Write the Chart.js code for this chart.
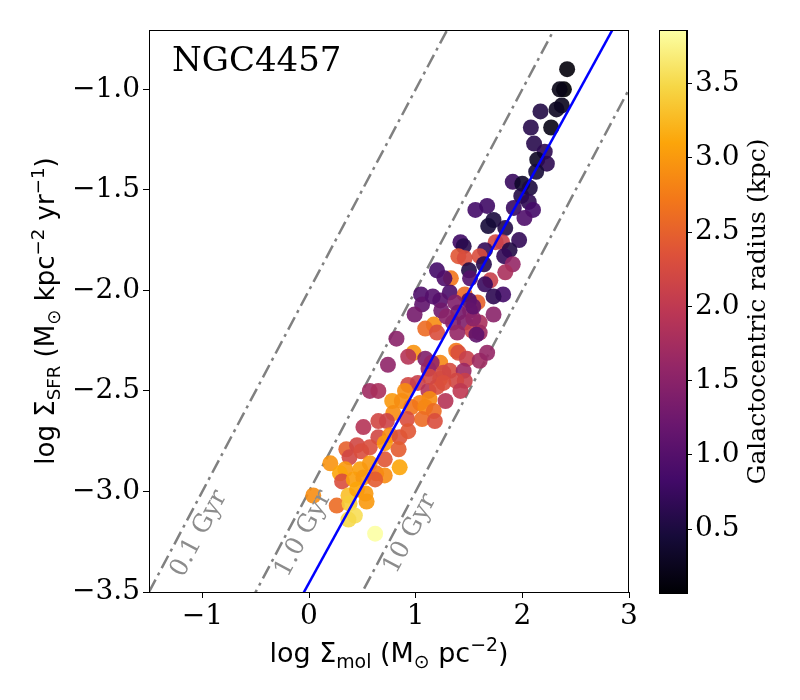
<!DOCTYPE html>
<html>
<head>
<meta charset="utf-8">
<script src="https://cdn.jsdelivr.net/npm/chart.js@4/dist/chart.umd.min.js"></script>
<style>
  html, body { margin: 0; padding: 0; background: #fff; }
  #wrap { position: relative; width: 800px; height: 700px; }
  #main { position: absolute; left: 0; top: 0; }
  #cbar { position: absolute; left: 640px; top: 0; }
</style>
</head>
<body>
<div id="wrap">
  <canvas id="main" width="800" height="700"></canvas>
  <canvas id="cbar" width="160" height="700"></canvas>
</div>
<script>
// log Sigma_mol (Msun pc^-2)
const logMol = [
  2.42, 2.39, 2.35, 2.37, 2.32, 2.17, 2.27, 2.08, 2.11, 2.21, 2.14, 2.23, 2.13, 1.91, 2.00, 2.07, 1.99, 2.06, 2.10, 1.92, 2.02, 1.56, 1.67, 1.73, 1.68, 1.84,
  1.97, 1.75, 1.81, 1.42, 1.45, 1.88, 1.65, 1.40, 1.46, 1.60, 1.83, 1.91, 1.20, 1.50, 1.64, 1.84, 1.33, 1.27, 1.70, 1.65, 1.51, 1.82, 1.73, 1.32, 1.46, 1.58,
  1.50, 1.05, 1.23, 1.37, 1.06, 0.99, 1.24, 1.40, 1.51, 1.73, 1.60, 1.17, 1.09, 1.35, 1.46, 1.53, 1.60, 1.20, 1.39, 0.82,
  1.54, 1.57, 0.98, 0.93, 1.09, 1.23, 1.38, 1.40, 1.48, 1.60, 1.67, 0.74, 1.12, 1.23, 1.32, 1.45, 1.46, 1.38, 0.93, 1.02, 0.57, 0.65, 1.12, 1.20, 1.42,
  0.90, 0.78, 0.87, 1.04, 1.13, 1.28, 0.96, 1.09, 1.17, 0.79, 0.65, 0.73, 0.92, 1.06, 1.18, 0.51,
  0.65, 0.76, 0.85, 0.93, 0.35, 0.45, 0.57, 0.71, 0.84, 0.38, 0.49, 0.20, 0.34, 0.48, 0.57, 0.71, 0.63, 0.71, 0.85, 0.29, 0.31, 0.42, 0.51, 0.62,
  0.04, 0.37, 0.45, 0.53, 0.54, 0.26, 0.38, 0.43, 0.37, 0.62,
  1.54, 1.29, 1.15, 1.13, 1.26, 1.26, 1.16
];
// log Sigma_SFR (Msun kpc^-2 yr^-1)
const logSFR = [
  -0.90, -1.00, -1.00, -1.08, -1.10, -1.11, -1.19, -1.19, -1.27, -1.31, -1.35, -1.37, -1.41, -1.46, -1.47, -1.49, -1.53, -1.56, -1.60, -1.59, -1.64, -1.60, -1.58, -1.65, -1.68, -1.69,
  -1.75, -1.76, -1.76, -1.76, -1.78, -1.80, -1.80, -1.83, -1.84, -1.83, -1.83, -1.87, -1.90, -1.90, -1.87, -1.91, -1.94, -1.94, -1.95, -1.97, -1.94, -2.02, -2.03, -2.01, -2.02, -2.06,
  -2.05, -2.02, -2.05, -2.06, -2.07, -2.12, -2.10, -2.11, -2.10, -2.12, -2.16, -2.17, -2.19, -2.16, -2.16, -2.20, -2.21, -2.21, -2.21, -2.24,
  -2.14, -2.22, -2.31, -2.33, -2.34, -2.36, -2.30, -2.31, -2.34, -2.35, -2.31, -2.37, -2.39, -2.44, -2.40, -2.40, -2.45, -2.45, -2.47, -2.46, -2.50, -2.50, -2.50, -2.48, -2.50,
  -2.50, -2.55, -2.55, -2.56, -2.54, -2.55, -2.58, -2.58, -2.60, -2.61, -2.65, -2.65, -2.64, -2.64, -2.65, -2.68,
  -2.73, -2.72, -2.73, -2.70, -2.79, -2.77, -2.78, -2.76, -2.79, -2.83, -2.80, -2.86, -2.89, -2.89, -2.86, -2.84, -2.91, -2.92, -2.88, -2.91, -2.95, -2.94, -2.93, -2.94,
  -3.02, -3.02, -2.99, -3.01, -3.05, -3.07, -3.06, -3.12, -3.14, -3.21,
  -2.08, -2.13, -2.36, -2.43, -2.41, -2.46, -2.03
];
// galactocentric radius (kpc), used for the colour
const radius = [
  0.12, 0.07, 0.20, 0.25, 0.30, 0.55, 0.20, 0.60, 0.60, 0.65, 0.30, 0.65, 0.45, 0.75, 0.35, 0.50, 0.55, 0.65, 0.85, 0.75, 0.95, 0.85, 0.80, 0.50, 0.45, 0.55,
  0.70, 2.20, 2.10, 0.80, 0.60, 0.55, 0.70, 2.40, 2.30, 2.30, 0.70, 1.60, 0.85, 0.55, 0.60, 1.80, 2.70, 0.95, 2.10, 0.75, 1.00, 0.85, 0.65, 0.90, 2.60, 2.50,
  0.90, 0.95, 1.05, 1.40, 1.10, 1.30, 1.25, 1.30, 1.40, 1.50, 1.80, 2.90, 2.60, 1.45, 1.40, 2.10, 1.70, 2.30, 1.60, 1.50,
  1.50, 1.10, 2.95, 1.90, 1.40, 2.85, 2.70, 2.30, 2.10, 1.70, 1.60, 1.55, 1.60, 2.70, 2.25, 1.65, 2.10, 2.20, 2.20, 2.10, 1.70, 1.80, 1.90, 2.30, 2.00,
  2.90, 3.00, 2.90, 2.80, 2.90, 1.90, 2.70, 2.85, 2.60, 2.90, 2.20, 2.15, 2.30, 2.60, 2.30, 1.90,
  2.20, 2.90, 2.35, 2.40, 2.50, 2.20, 2.30, 3.00, 2.45, 2.20, 2.30, 2.95, 3.00, 3.05, 3.00, 2.40, 2.70, 2.90, 3.10, 3.10, 2.30, 3.05, 3.00, 2.45,
  2.90, 3.30, 3.10, 3.00, 3.00, 2.60, 3.40, 3.55, 3.50, 3.86,
  1.10, 1.50, 1.60, 2.20, 2.20, 2.30, 1.00
];

const xTicks = [-1, 0, 1, 2, 3];
const yTicks = [-1.0, -1.5, -2.0, -2.5, -3.0, -3.5];
const cbTicks = [0.5, 1.0, 1.5, 2.0, 2.5, 3.0, 3.5];

// constant depletion time lines (yr) and the fitted relation
const depletionTimes = [1e8, 1e9, 1e10];
const depletionLabels = ['0.1 Gyr', '1.0 Gyr', '10 Gyr'];
const depletionLabelX = [-1.03, -0.05, 0.95];
const depletionLabelY = [-3.21, -3.21, -3.21];
const fitSlope = 0.967;
const fitIntercept = -3.455;

const xMin = -1.5, xMax = 3.0, yMin = -3.5, yMax = -0.705;
const cbMin = Math.min(...radius), cbMax = Math.max(...radius);

const inferno = ['#000004', '#160b39', '#420a68', '#6a176e', '#932667', '#bc3754',
                 '#dd513a', '#f37819', '#fca50a', '#f6d746', '#fcffa4'];

function hexRgb(h) {
  return [parseInt(h.slice(1, 3), 16), parseInt(h.slice(3, 5), 16), parseInt(h.slice(5, 7), 16)];
}
function infernoColor(t, alpha) {
  t = Math.max(0, Math.min(1, t));
  const p = t * (inferno.length - 1);
  const i = Math.min(Math.floor(p), inferno.length - 2);
  const f = p - i;
  const a = hexRgb(inferno[i]), b = hexRgb(inferno[i + 1]);
  const c = a.map((v, k) => Math.round(v + (b[k] - v) * f));
  return 'rgba(' + c[0] + ',' + c[1] + ',' + c[2] + ',' + alpha + ')';
}

const minus = s => String(s).replace('-', '\u2212');
const serif = 'DejaVu Serif';
const sans = 'DejaVu Sans';

const points = logMol.map((x, i) => ({ x: x, y: logSFR[i] }));
const pointColors = radius.map(r => infernoColor((r - cbMin) / (cbMax - cbMin), 0.9));

const depletionSets = depletionTimes.map(t => ({
  type: 'line',
  data: [xMin, xMax].map(x => ({ x: x, y: x + 6 - Math.log10(t) })),
  borderColor: '#808080',
  borderWidth: 2.5,
  borderDash: [14, 5, 3, 5],
  pointRadius: 0,
  order: 2
}));

// draws text with sub/superscript pieces
function drawRich(ctx, segs, cx, cy, rot, size, family) {
  ctx.save();
  ctx.translate(cx, cy);
  ctx.rotate(rot);
  let total = 0;
  segs.forEach(s => {
    ctx.font = (s[1] ? size * 0.7 : size) + 'px "' + family + '"';
    s.w = ctx.measureText(s[0]).width;
    total += s.w;
  });
  let x = -total / 2;
  ctx.fillStyle = '#000';
  ctx.textBaseline = 'alphabetic';
  segs.forEach(s => {
    ctx.font = (s[1] ? size * 0.7 : size) + 'px "' + family + '"';
    const dy = s[1] === 'sub' ? size * 0.22 : s[1] === 'sup' ? -size * 0.38 : 0;
    ctx.fillText(s[0], x, size * 0.36 + dy);
    x += s.w;
  });
  ctx.restore();
}

const xTitle = [['log \u03A3'], ['mol', 'sub'], [' (M'], ['\u2299', 'sub'], [' pc'], ['\u22122', 'sup'], [')']];
const yTitle = [['log \u03A3'], ['SFR', 'sub'], [' (M'], ['\u2299', 'sub'], [' kpc'], ['\u22122', 'sup'], [' yr'], ['\u22121', 'sup'], [')']];

const mainDecor = {
  id: 'mainDecor',
  afterDatasetsDraw(chart) {
    const { ctx, chartArea: a, scales: { x, y } } = chart;
    // labels along the depletion lines
    const ang = Math.atan2(y.getPixelForValue(1) - y.getPixelForValue(0), x.getPixelForValue(1) - x.getPixelForValue(0));
    ctx.save();
    ctx.beginPath();
    ctx.rect(a.left, a.top, a.right - a.left, a.bottom - a.top);
    ctx.clip();
    ctx.fillStyle = '#8c8c8c';
    ctx.font = '25px "' + serif + '"';
    ctx.textAlign = 'center';
    ctx.textBaseline = 'middle';
    depletionLabels.forEach((lab, i) => {
      ctx.save();
      ctx.translate(x.getPixelForValue(depletionLabelX[i]), y.getPixelForValue(depletionLabelY[i]));
      ctx.rotate(ang);
      ctx.fillText(lab, 0, 0);
      ctx.restore();
    });
    ctx.restore();
  },
  afterDraw(chart) {
    const { ctx, chartArea: a } = chart;
    ctx.save();
    ctx.strokeStyle = '#000';
    ctx.lineWidth = 1;
    ctx.strokeRect(a.left + 0.5, a.top + 0.5, a.right - a.left - 1, a.bottom - a.top);
    ctx.fillStyle = '#000';
    ctx.font = '34px "' + serif + '"';
    ctx.textAlign = 'left';
    ctx.textBaseline = 'alphabetic';
    ctx.fillText('NGC4457', a.left + 23, a.top + 41);
    ctx.restore();
    drawRich(ctx, xTitle, (a.left + a.right) / 2, 652, 0, 27, sans);
    drawRich(ctx, yTitle, 45, (a.top + a.bottom) / 2, -Math.PI / 2, 26, sans);
  }
};

const tickFont = { family: serif, size: 28 };

new Chart(document.getElementById('main'), {
  type: 'scatter',
  data: {
    datasets: [
      {
        type: 'line',
        data: [xMin, xMax].map(x => ({ x: x, y: fitSlope * x + fitIntercept })),
        borderColor: '#0000ff',
        borderWidth: 2.5,
        pointRadius: 0,
        order: 0
      },
      {
        data: points,
        backgroundColor: pointColors,
        borderWidth: 0,
        pointRadius: 8,
        order: 1
      },
      ...depletionSets
    ]
  },
  options: {
    responsive: false,
    animation: false,
    events: [],
    layout: { padding: { left: 0, right: 171, top: 30, bottom: 0 } },
    plugins: { legend: { display: false }, tooltip: { enabled: false } },
    scales: {
      x: {
        type: 'linear', min: xMin, max: xMax,
        afterBuildTicks: s => { s.ticks = xTicks.map(v => ({ value: v })); },
        afterFit: s => { s.height = 108; },
        grid: { drawOnChartArea: false, drawTicks: true, tickLength: 6, color: '#000' },
        border: { display: true, color: '#000', width: 1 },
        ticks: { font: tickFont, color: '#000', padding: 2, maxRotation: 0, callback: v => minus(v) }
      },
      y: {
        type: 'linear', min: yMin, max: yMax,
        afterBuildTicks: s => { s.ticks = yTicks.map(v => ({ value: v })); },
        afterFit: s => { s.width = 149; },
        grid: { drawOnChartArea: false, drawTicks: true, tickLength: 6, color: '#000' },
        border: { display: true, color: '#000', width: 1 },
        ticks: { font: tickFont, color: '#000', padding: 3, callback: v => minus(v.toFixed(1)) }
      }
    }
  },
  plugins: [mainDecor]
});

// colour bar
const cbarDecor = {
  id: 'cbarDecor',
  beforeDatasetsDraw(chart) {
    const { ctx, chartArea: a } = chart;
    const g = ctx.createLinearGradient(0, a.bottom, 0, a.top);
    inferno.forEach((c, i) => g.addColorStop(i / (inferno.length - 1), c));
    ctx.save();
    ctx.fillStyle = g;
    ctx.fillRect(a.left, a.top, a.right - a.left, a.bottom - a.top);
    ctx.strokeStyle = '#000';
    ctx.lineWidth = 1;
    ctx.strokeRect(a.left + 0.5, a.top + 0.5, a.right - a.left - 1, a.bottom - a.top);
    ctx.restore();
  },
  afterDraw(chart) {
    const { ctx, chartArea: a } = chart;
    ctx.save();
    ctx.translate(118, (a.top + a.bottom) / 2);
    ctx.rotate(-Math.PI / 2);
    ctx.fillStyle = '#000';
    ctx.font = '25px "' + serif + '"';
    ctx.textAlign = 'center';
    ctx.textBaseline = 'middle';
    ctx.fillText('Galactocentric radius (kpc)', 0, 0);
    ctx.restore();
  }
};

new Chart(document.getElementById('cbar'), {
  type: 'scatter',
  data: { datasets: [{ data: [] }] },
  options: {
    responsive: false,
    animation: false,
    events: [],
    layout: { padding: { left: 19, right: 0, top: 30, bottom: 107 } },
    plugins: { legend: { display: false }, tooltip: { enabled: false } },
    scales: {
      x: { display: false, min: 0, max: 1 },
      y: {
        position: 'right', min: cbMin, max: cbMax,
        afterBuildTicks: s => { s.ticks = cbTicks.map(v => ({ value: v })); },
        afterFit: s => { s.width = 113; },
        grid: { drawOnChartArea: false, drawTicks: true, tickLength: 5, color: '#000' },
        border: { display: true, color: '#000', width: 1 },
        ticks: { font: tickFont, color: '#000', padding: 3, callback: v => v.toFixed(1) }
      }
    }
  },
  plugins: [cbarDecor]
});
</script>
</body>
</html>
